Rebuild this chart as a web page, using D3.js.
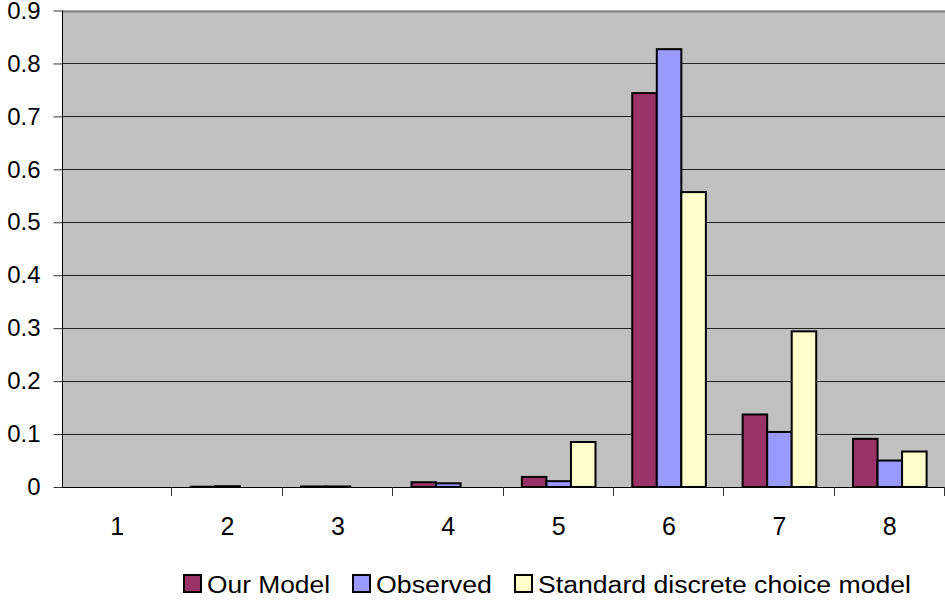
<!DOCTYPE html>
<html>
<head>
<meta charset="utf-8">
<script src="https://cdn.jsdelivr.net/npm/d3@7"></script>
<style>
  body { margin: 0; background: #fff; }
  text { font-family: "Liberation Sans", Arial, sans-serif; }
</style>
</head>
<body>
<svg width="945" height="601"></svg>
<script>
var categories = ["1", "2", "3", "4", "5", "6", "7", "8"];
var seriesNames = ["Our Model", "Observed", "Standard discrete choice model"];
var ourModel = [0, 0.0005, 0.001, 0.009, 0.019, 0.744, 0.137, 0.091];
var observed = [0, 0.0015, 0.001, 0.007, 0.011, 0.827, 0.104, 0.050];
var standardModel = [0, 0, 0, 0, 0.085, 0.557, 0.294, 0.067];
var yTicks = [0, 0.1, 0.2, 0.3, 0.4, 0.5, 0.6, 0.7, 0.8, 0.9];
var colors = ["#993366", "#9999FF", "#FFFFCC"];

var svg = d3.select("svg");
var plotLeft = 62, plotTop = 10.5, plotRight = 945, plotBottom = 487;

var xs = d3.scaleBand().domain(categories).range([plotLeft, plotRight]).padding(0);
var ys = d3.scaleLinear().domain([0, 0.9]).range([plotBottom, plotTop]);

// plot background
svg.append("rect")
    .attr("x", plotLeft).attr("y", plotTop)
    .attr("width", plotRight - plotLeft).attr("height", plotBottom - plotTop)
    .attr("fill", "#C0C0C0");

// gridlines
svg.append("g")
    .selectAll("line")
    .data(yTicks.slice(1))
    .enter()
    .append("line")
        .attr("x1", plotLeft).attr("x2", plotRight)
        .attr("y1", function(d) { return Math.round(ys(d)) + 0.5; })
        .attr("y2", function(d) { return Math.round(ys(d)) + 0.5; })
        .attr("stroke", function(d) { return d == 0.9 ? "#808080" : "#222"; })
        .attr("stroke-width", function(d) { return d == 0.9 ? 2 : 1; });

// bars
var seriesData = [ourModel, observed, standardModel];
var bw = xs.bandwidth() / 4.5;
var inner = d3.scaleBand().domain([0, 1, 2]).range([bw * 0.75, bw * 3.75]);

seriesData.forEach(function(vals, s) {
    var pts = vals.map(function(v, i) { return {cat: categories[i], v: v}; })
                  .filter(function(d) { return d.v > 0; });
    svg.append("g")
        .selectAll("rect")
        .data(pts)
        .enter()
        .append("rect")
            .attr("x", function(d) { return xs(d.cat) + inner(s); })
            .attr("y", function(d) { return ys(d.v); })
            .attr("width", inner.bandwidth())
            .attr("height", function(d) { return plotBottom - ys(d.v); })
            .attr("fill", colors[s])
            .attr("stroke", "#000")
            .attr("stroke-width", 2);
});

// x axis
var xAxis = svg.append("g");
xAxis.append("line")
    .attr("x1", plotLeft).attr("x2", plotRight)
    .attr("y1", plotBottom + 0.5).attr("y2", plotBottom + 0.5)
    .attr("stroke", "#000");
xAxis.selectAll("line.tick")
    .data(categories)
    .enter()
    .append("line")
        .attr("class", "tick")
        .attr("x1", function(d) { return Math.round(xs(d) + xs.bandwidth()) - 0.5; })
        .attr("x2", function(d) { return Math.round(xs(d) + xs.bandwidth()) - 0.5; })
        .attr("y1", plotBottom).attr("y2", plotBottom + 9)
        .attr("stroke", "#333");
xAxis.selectAll("text")
    .data(categories)
    .enter()
    .append("text")
        .attr("x", function(d) { return xs(d) + xs.bandwidth() / 2; })
        .attr("y", 535)
        .attr("text-anchor", "middle")
        .style("font-size", "25px")
        .text(function(d) { return d; });

// y axis
var yAxis = d3.axisLeft(ys)
    .tickValues(yTicks)
    .tickSize(9)
    .tickPadding(13)
    .tickFormat(function(d) { return d == 0 ? "0" : d3.format(".1f")(d); });
var yg = svg.append("g")
    .attr("transform", "translate(" + (plotLeft + 0.5) + ",0)")
    .call(yAxis);
yg.select(".domain").attr("stroke", "#000").attr("d", "M0," + plotTop + "V" + plotBottom);
yg.selectAll(".tick line").attr("stroke", "#333");
yg.selectAll("text").style("font-size", "24px").attr("fill", "#000")
    .attr("font-family", "Liberation Sans, Arial, sans-serif");

// legend
var legendX = [184, 353, 515];
var legendW = [123, 116, 373];
var legend = svg.append("g");
seriesNames.forEach(function(name, i) {
    legend.append("rect")
        .attr("x", legendX[i]).attr("y", 575)
        .attr("width", 17).attr("height", 17)
        .attr("fill", colors[i])
        .attr("stroke", "#000")
        .attr("stroke-width", 2);
    legend.append("text")
        .attr("x", legendX[i] + 23).attr("y", 593)
        .style("font-size", "23px")
        .attr("textLength", legendW[i])
        .attr("lengthAdjust", "spacingAndGlyphs")
        .text(name);
});
</script>
</body>
</html>
